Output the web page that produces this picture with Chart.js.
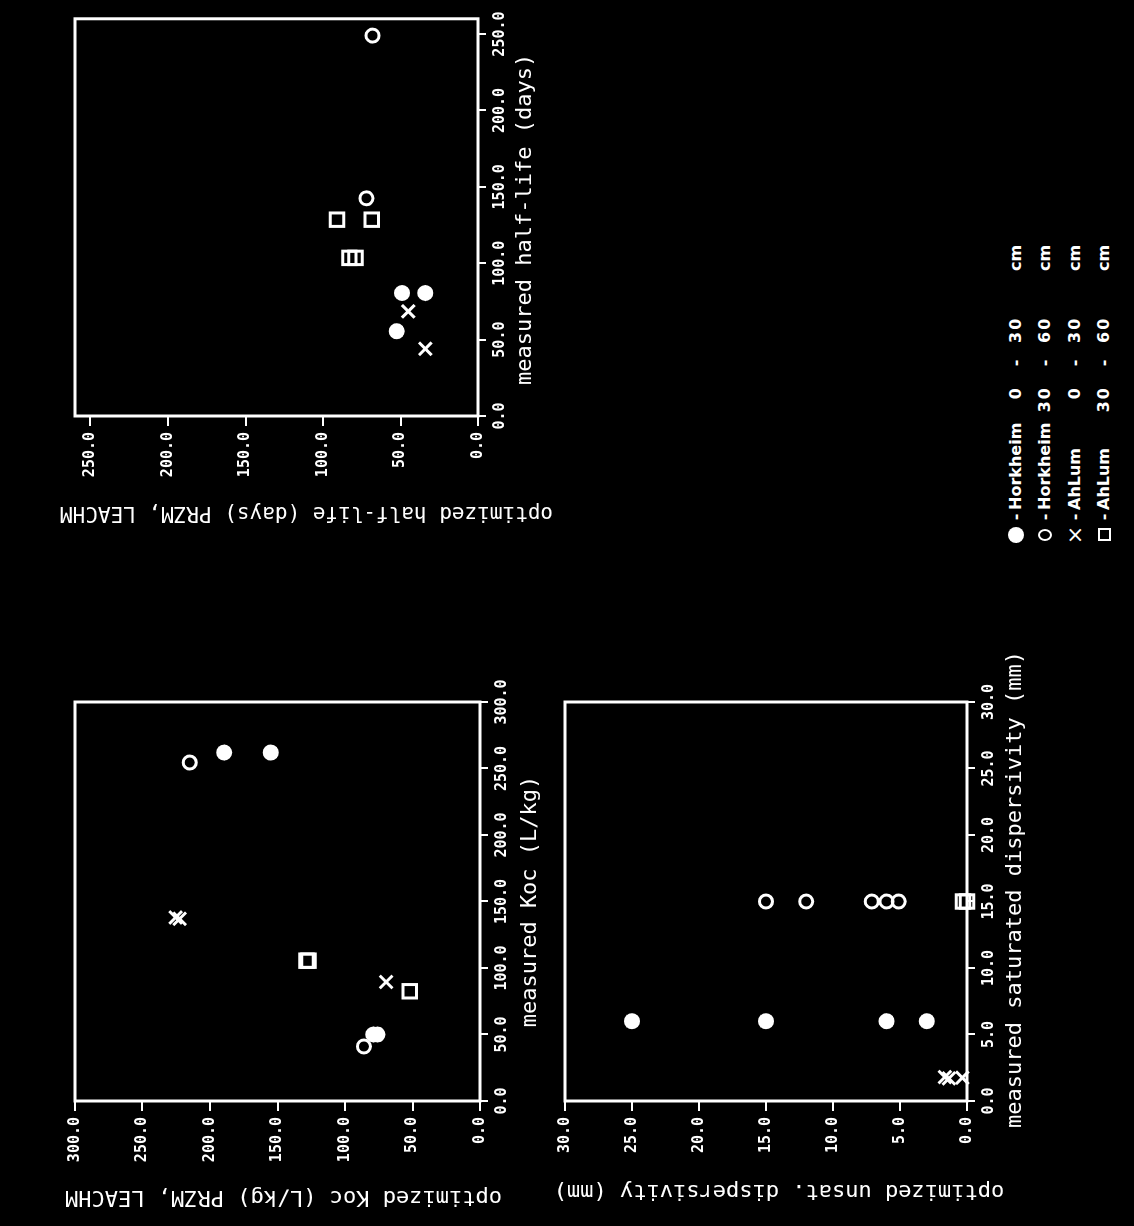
<!DOCTYPE html>
<html><head><meta charset="utf-8">
<script src="https://cdn.jsdelivr.net/npm/chart.js@4.4.0/dist/chart.umd.min.js"></script>
<style>
html,body{margin:0;padding:0;background:#000;width:1134px;height:1226px;overflow:hidden}
#page{position:absolute;left:0;top:0;width:1226px;height:1134px;background:#000;transform-origin:0 0;transform:translate(0,1226px) rotate(-90deg)}
#page canvas{position:absolute}
.lg{position:absolute;color:#fff;font:bold 16px 'DejaVu Sans';white-space:pre;line-height:20px;height:20px}
.mk{position:absolute;box-sizing:border-box}
</style></head><body>
<div id="page">
<canvas id="cHalf" width="520" height="520" style="left:700px;top:40px"></canvas>
<canvas id="cKoc" width="559" height="522" style="left:15px;top:40px"></canvas>
<canvas id="cDisp" width="559" height="499" style="left:15px;top:550px"></canvas>
</div>
<script>
// ---- data: [measured, optimized] ----
const seriesNames = ['Horkheim  0 - 30 cm', 'Horkheim 30 - 60 cm', 'AhLum  0 - 30 cm', 'AhLum 30 - 60 cm'];
const legendSite = ['Horkheim', 'Horkheim', 'AhLum', 'AhLum'];
const legendFrom = ['0', '30', '0', '30'];
const legendTo = ['30', '60', '30', '60'];

const halfLifeHork030 = [[80.5, 49], [80.5, 34], [55.5, 52.5]];
const halfLifeHork3060 = [[249, 68], [142.5, 72]];
const halfLifeAhl030 = [[68.5, 45], [44, 34]];
const halfLifeAhl3060 = [[128.5, 91], [128.5, 68.5], [103.5, 83], [103.5, 79]];

const kocHork030 = [[262, 189.5], [262, 155], [50, 79], [50, 76]];
const kocHork3060 = [[254.5, 215], [41, 86]];
const kocAhl030 = [[138, 225.5], [137, 222.5], [89.5, 69.5]];
const kocAhl3060 = [[105.5, 128.5], [105.5, 127], [82.5, 52]];

const dispHork030 = [[6, 25], [6, 15], [6, 6], [6, 3]];
const dispHork3060 = [[15, 15], [15, 12], [15, 7.1], [15, 6], [15, 5.1]];
const dispAhl030 = [[1.8, 1.65], [1.7, 1.35], [1.75, 0.35]];
const dispAhl3060 = [[15, 0.3], [15, 0]];

const halfLifeTicks = [0, 50, 100, 150, 200, 250];
const kocTicks = [0, 50, 100, 150, 200, 250, 300];
const dispTicks = [0, 5, 10, 15, 20, 25, 30];

// ---- drawing ----
const W_Y = 110, H_X = 62;
const MONO = 'DejaVu Sans Mono';

const frame = {
  id: 'frame',
  beforeDatasetsDraw(chart) {
    const {ctx, chartArea: a} = chart;
    ctx.save();
    ctx.strokeStyle = '#fff'; ctx.lineWidth = 3;
    ctx.strokeRect(a.left, a.top, a.right - a.left, a.bottom - a.top);
    ctx.restore();
  }
};
const axisTitles = {
  id: 'axisTitles',
  afterDraw(chart, args, o) {
    const {ctx, chartArea: a} = chart;
    ctx.save();
    ctx.fillStyle = '#fff';
    ctx.textAlign = 'center'; ctx.textBaseline = 'middle';
    ctx.font = o.xSize + 'px "' + MONO + '"';
    ctx.fillText(o.x, (a.left + a.right) / 2 + o.xShift, a.bottom + o.xGap);
    ctx.font = o.ySize + 'px "' + MONO + '"';
    ctx.translate(a.left - o.yGap, (a.top + a.bottom) / 2 + o.yShift);
    ctx.rotate(-Math.PI / 2);
    ctx.fillText(o.y, 0, 0);
    ctx.restore();
  }
};

function axis(ticks, max, dir) {
  return {
    type: 'linear', min: 0, max: max,
    afterBuildTicks: s => { s.ticks = ticks.map(v => ({value: v})); },
    afterFit: s => { if (dir === 'x') s.height = H_X; else s.width = W_Y; },
    ticks: {
      color: '#fff', font: {family: MONO, size: 15, weight: 'bold'},
      padding: dir === 'x' ? 5 : 6, maxRotation: 0, minRotation: 0, autoSkip: false,
      callback: v => Number(v).toFixed(1)
    },
    grid: {drawOnChartArea: false, drawTicks: true, tickLength: dir === 'x' ? 8 : 10, color: '#fff', lineWidth: 2},
    border: {display: false}
  };
}

const styles = [
  {pointStyle: 'circle', pointRadius: 8, backgroundColor: '#fff', borderColor: '#fff', borderWidth: 0},
  {pointStyle: 'circle', pointRadius: 6.5, backgroundColor: 'rgba(0,0,0,0)', borderColor: '#fff', borderWidth: 3},
  {pointStyle: 'crossRot', pointRadius: 9, backgroundColor: 'rgba(0,0,0,0)', borderColor: '#fff', borderWidth: 3},
  {pointStyle: 'rect', pointRadius: 9.5, backgroundColor: 'rgba(0,0,0,0)', borderColor: '#fff', borderWidth: 3}
];

function scatterChart(id, series, ticks, max, titles, padTop, padRight) {
  return new Chart(document.getElementById(id), {
    type: 'scatter',
    data: {datasets: series.map((pts, i) => Object.assign({
      label: seriesNames[i], data: pts.map(p => ({x: p[0], y: p[1]})), clip: false
    }, styles[i]))},
    options: {
      responsive: false, animation: false, devicePixelRatio: 1, events: [],
      layout: {padding: {top: padTop, right: padRight, bottom: 20, left: 0}},
      plugins: {legend: {display: false}, tooltip: {enabled: false}, axisTitles: titles},
      scales: {x: axis(ticks, max, 'x'), y: axis(ticks, max, 'y')}
    },
    plugins: [frame, axisTitles]
  });
}

scatterChart('cHalf', [halfLifeHork030, halfLifeHork3060, halfLifeAhl030, halfLifeAhl3060], halfLifeTicks, 260,
  {x: 'measured half-life (days)', y: 'optimized half-life (days) PRZM, LEACHM', xSize: 22, ySize: 21, xShift: -2, xGap: 47, yShift: 30, yGap: 96}, 35, 12);
scatterChart('cKoc', [kocHork030, kocHork3060, kocAhl030, kocAhl3060], kocTicks, 300,
  {x: 'measured Koc (L/kg)', y: 'optimized Koc (L/kg) PRZM, LEACHM', xSize: 22, ySize: 22, xShift: 0, xGap: 50, yShift: 6, yGap: 96}, 35, 50);
scatterChart('cDisp', [dispHork030, dispHork3060, dispAhl030, dispAhl3060], dispTicks, 30,
  {x: 'measured saturated dispersivity (mm)', y: 'optimized unsat. dispersivity (mm)', xSize: 22, ySize: 22, xShift: 12, xGap: 48, yShift: 13, yGap: 90}, 12, 50);

// ---- legend (page coordinates before rotation) ----
const page = document.getElementById('page');
const rowY = [1016, 1045, 1075, 1104];
function addText(txt, x, cy, align, extra) {
  const s = document.createElement('span');
  s.className = 'lg'; s.textContent = txt;
  s.style.top = (cy - 10) + 'px';
  if (align === 'right') { s.style.right = (1226 - x) + 'px'; }
  else if (align === 'center') { s.style.left = (x - 20) + 'px'; s.style.width = '40px'; s.style.textAlign = 'center'; }
  else { s.style.left = x + 'px'; }
  if (extra) Object.assign(s.style, extra);
  page.appendChild(s);
}
function addMarker(kind, cx, cy) {
  const d = document.createElement('div');
  d.className = 'mk';
  if (kind === 0) { Object.assign(d.style, {left: (cx - 8) + 'px', top: (cy - 8) + 'px', width: '16px', height: '16px', borderRadius: '50%', background: '#fff'}); }
  else if (kind === 1) { Object.assign(d.style, {left: (cx - 6) + 'px', top: (cy - 7) + 'px', width: '12px', height: '14px', borderRadius: '50%', border: '2.5px solid #fff'}); }
  else if (kind === 3) { Object.assign(d.style, {left: (cx - 6.5) + 'px', top: (cy - 6.5) + 'px', width: '13px', height: '13px', border: '2.5px solid #fff'}); }
  if (kind === 2) { addText('\u00d7', cx, cy, 'center', {fontSize: '22px', fontWeight: 'normal'}); return; }
  page.appendChild(d);
}
for (let i = 0; i < 4; i++) {
  const cy = rowY[i];
  addMarker(i, 691, cy);
  addText('-', 709, cy, 'center');
  addText(legendSite[i], 716, cy, 'left');
  addText(legendFrom[i], 840, cy, 'right', {letterSpacing: '2px'});
  addText('-', 863, cy, 'center');
  addText(legendTo[i], 883, cy, 'left', {letterSpacing: '2px'});
  addText('cm', 955, cy, 'left');
}
</script>
</body></html>
